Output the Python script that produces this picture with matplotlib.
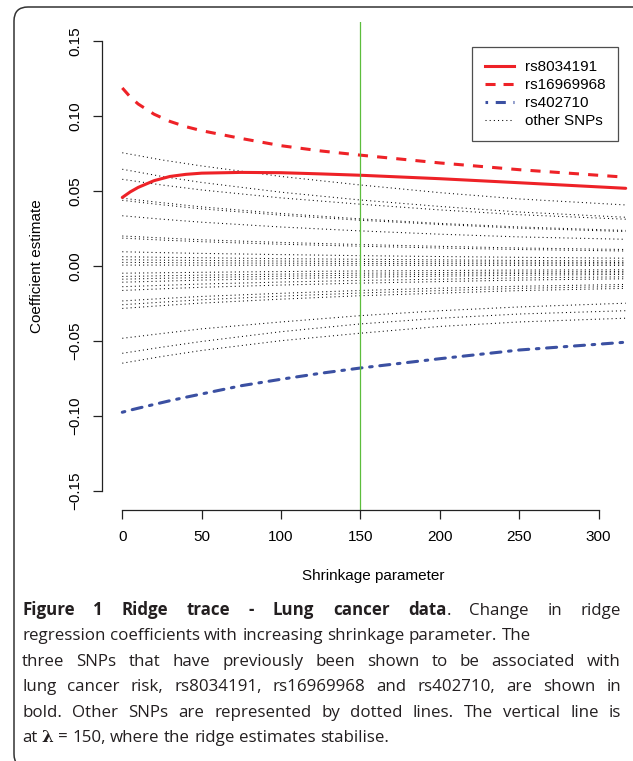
import matplotlib
matplotlib.use('Agg')
import matplotlib.pyplot as plt
from matplotlib.patches import FancyBboxPatch
from matplotlib.lines import Line2D
from matplotlib.transforms import IdentityTransform

plt.rcParams['font.family'] = ['Liberation Sans', 'DejaVu Sans']

W, H, DPI = 633, 761, 100

# ---------------- data ----------------
lam_key = [0, 5, 10, 20, 30, 40, 50, 75, 100, 125, 150, 200, 250, 317]
rs8034191 = [0.0455, 0.0492, 0.0522, 0.0567, 0.0595, 0.0609, 0.0617, 0.0622, 0.0620, 0.0612, 0.0603, 0.0580, 0.0553, 0.0516]
rs16969968 = [0.1185, 0.1125, 0.1078, 0.1010, 0.0962, 0.0927, 0.0900, 0.0848, 0.0800, 0.0765, 0.0737, 0.0685, 0.0640, 0.0590]
rs402710 = [-0.0977, -0.0963, -0.0950, -0.0925, -0.0900, -0.0877, -0.0855, -0.0800, -0.0757, -0.0717, -0.0682, -0.0620, -0.0562, -0.0510]

lam_snp = [0, 25, 50, 100, 150, 200, 250, 317]
other_snps = [
    [0.0753, 0.0705, 0.0665, 0.0595, 0.0538, 0.0487, 0.0445, 0.0405],
    [0.0643, 0.0595, 0.0555, 0.0490, 0.0438, 0.0395, 0.0358, 0.0323],
    [0.0576, 0.0538, 0.0505, 0.0452, 0.0410, 0.0372, 0.0340, 0.0310],
    [0.0450, 0.0420, 0.0392, 0.0348, 0.0312, 0.0282, 0.0258, 0.0235],
    [0.0436, 0.0406, 0.0379, 0.0337, 0.0303, 0.0275, 0.0250, 0.0228],
    [0.0333, 0.0310, 0.0290, 0.0258, 0.0232, 0.0210, 0.0192, 0.0176],
    [0.0198, 0.0185, 0.0173, 0.0155, 0.0141, 0.0129, 0.0118, 0.0108],
    [0.0184, 0.0171, 0.0160, 0.0143, 0.0130, 0.0118, 0.0108, 0.0098],
    [0.0093, 0.0087, 0.0082, 0.0074, 0.0067, 0.0061, 0.0056, 0.0050],
    [0.0060, 0.0056, 0.0053, 0.0047, 0.0043, 0.0039, 0.0035, 0.0032],
    [0.0040, 0.0037, 0.0035, 0.0031, 0.0028, 0.0026, 0.0024, 0.0021],
    [0.0022, 0.0021, 0.0019, 0.0017, 0.0015, 0.0014, 0.0013, 0.0012],
    [0.0004, 0.0004, 0.0003, 0.0003, 0.0003, 0.0002, 0.0002, 0.0002],
    [-0.0050, -0.0047, -0.0044, -0.0039, -0.0035, -0.0032, -0.0029, -0.0027],
    [-0.0072, -0.0067, -0.0063, -0.0056, -0.0050, -0.0046, -0.0042, -0.0038],
    [-0.0090, -0.0084, -0.0079, -0.0070, -0.0063, -0.0058, -0.0052, -0.0048],
    [-0.0110, -0.0103, -0.0096, -0.0086, -0.0077, -0.0070, -0.0064, -0.0058],
    [-0.0140, -0.0131, -0.0122, -0.0109, -0.0098, -0.0090, -0.0081, -0.0074],
    [-0.0165, -0.0154, -0.0144, -0.0129, -0.0116, -0.0106, -0.0096, -0.0087],
    [-0.0235, -0.0219, -0.0205, -0.0184, -0.0165, -0.0150, -0.0137, -0.0125],
    [-0.0260, -0.0243, -0.0227, -0.0203, -0.0182, -0.0166, -0.0151, -0.0138],
    [-0.0285, -0.0266, -0.0249, -0.0223, -0.0200, -0.0183, -0.0166, -0.0151],
    [-0.0484, -0.0452, -0.0421, -0.0375, -0.0333, -0.0300, -0.0275, -0.0250],
    [-0.0584, -0.0543, -0.0505, -0.0440, -0.0388, -0.0350, -0.0322, -0.0300],
    [-0.0650, -0.0605, -0.0565, -0.0500, -0.0450, -0.0405, -0.0375, -0.0350],
]

lambda_stable = 150
x_ticks = [0, 50, 100, 150, 200, 250, 300]
y_ticks = [-0.15, -0.10, -0.05, 0.00, 0.05, 0.10, 0.15]
y_ticklabels = ['\u22120.15', '\u22120.10', '\u22120.05', '0.00', '0.05', '0.10', '0.15']
legend_labels = ['rs8034191', 'rs16969968', 'rs402710', 'other SNPs']

RED = '#ee2227'
BLUE = '#3b50a2'
GREEN = '#5cbd3c'

# ---------------- figure ----------------
fig = plt.figure(figsize=(W / DPI, H / DPI), dpi=DPI)

def fx(px):
    return px / W

def fy(py):
    return 1 - py / H

ax_left, ax_right, ax_top, ax_bottom = 101.7, 633.0, 22.0, 510.0
ax = fig.add_axes([fx(ax_left), fy(ax_bottom), fx(ax_right - ax_left), (ax_bottom - ax_top) / H])
ax.set_xlim(-12.97, 321.6)
ax.set_ylim(-0.16287, 0.16247)
ax.patch.set_alpha(0)

for vals in other_snps:
    ax.plot(lam_snp, vals, color='black', lw=0.75, linestyle=(0, (1, 3)), solid_capstyle='butt')

ax.plot(lam_key, rs8034191, color=RED, lw=2.2, solid_capstyle='round', solid_joinstyle='round')
ax.plot(lam_key, rs16969968, color=RED, lw=2.2, dashes=(3.3, 3.0))
ax.plot(lam_key, rs402710, color=BLUE, lw=2.2, dashes=(0.85, 2.5, 3.3, 2.5), dash_capstyle='round')
ax.axvline(lambda_stable, color=GREEN, lw=0.9)

for s in ['top', 'right']:
    ax.spines[s].set_visible(False)
ax.spines['left'].set_bounds(-0.15, 0.15)
ax.spines['bottom'].set_bounds(0, 300)
for s in ['left', 'bottom']:
    ax.spines[s].set_linewidth(0.9)
    ax.spines[s].set_color('#222222')

ax.set_xticks(x_ticks)
ax.set_xticklabels([str(v) for v in x_ticks])
ax.set_yticks(y_ticks)
ax.set_yticklabels(y_ticklabels, rotation=90, va='center')
ax.tick_params(axis='both', length=6.7, width=0.9, color='#222222', labelsize=11)
ax.tick_params(axis='y', pad=7)
ax.tick_params(axis='x', pad=8)

fig.text(fx(37), fy(266), 'Coefficient estimate', rotation=90, ha='center', va='center', fontsize=11)
fig.text(fx(373), fy(576), 'Shrinkage parameter', ha='center', va='center', fontsize=11)

handles = [
    Line2D([], [], color=RED, lw=2.2),
    Line2D([], [], color=RED, lw=2.2, dashes=(3.3, 2.6)),
    Line2D([], [], color=BLUE, lw=2.2, dashes=(0.85, 2.5, 3.3, 2.5)),
    Line2D([], [], color='black', lw=0.75, linestyle=(0, (1, 3))),
]
leg = ax.legend(handles, legend_labels, loc='upper left',
                bbox_to_anchor=(fx(472), fy(47)), bbox_transform=fig.transFigure,
                fontsize=11, frameon=True, fancybox=False, borderaxespad=0,
                handlelength=1.9, handletextpad=0.7, labelspacing=0.26, borderpad=0.85)
leg.get_frame().set_edgecolor('#222222')
leg.get_frame().set_linewidth(0.9)

# ---------------- rounded border ----------------
border = FancyBboxPatch((14, H - 768), 660, 761, boxstyle='round,pad=0,rounding_size=14',
                        transform=IdentityTransform(), fill=False, edgecolor='#333333', lw=1.1)
fig.add_artist(border)

# ---------------- caption ----------------
CAP = ['Open Sans', 'DejaVu Sans']
CAPSIZE = 12.2
CAPCOL = '#231f20'
renderer = fig.canvas.get_renderer()
ID = IdentityTransform()

def make(txt, bold=False, fam=None):
    return fig.text(0, 0, txt, transform=ID, fontsize=CAPSIZE, color=CAPCOL, family=fam or CAP,
                    fontweight='bold' if bold else 'normal', ha='left', va='baseline')

def width(t):
    return t.get_window_extent(renderer).width

sp_a = make('n n'); sp_b = make('nn')
SPACE = width(sp_a) - width(sp_b)
sp_a.remove(); sp_b.remove()

def draw_line(words, baseline, x0, x1=None):
    built = []
    total = 0
    for word in words:
        parts = []
        for piece in word:
            t = make(*piece) if isinstance(piece, tuple) else make(piece)
            parts.append((t, width(t)))
            total += parts[-1][1]
        built.append(parts)
    gap = SPACE if x1 is None else (x1 - x0 - total) / (len(built) - 1)
    x = x0
    for parts in built:
        for t, w in parts:
            t.set_position((x, H - baseline))
            x += w
        x += gap

X0, X1 = 22, 621
LH = 25.4
B0 = 615
line1 = [[('Figure', True)], [('1', True)], [('Ridge', True)], [('trace', True)], [('-', True)],
         [('Lung', True)], [('cancer', True)], [('data', True), ('.', False)],
         ['Change'], ['in'], ['ridge']]
draw_line(line1, B0, X0, X1)
draw_line([[w] for w in 'regression coefficients with increasing shrinkage parameter. The'.split()], B0 + LH, X0)
draw_line([[w] for w in 'three SNPs that have previously been shown to be associated with'.split()], B0 + 2 * LH, X0, X1)
draw_line([[w] for w in 'lung cancer risk, rs8034191, rs16969968 and rs402710, are shown in'.split()], B0 + 3 * LH, X0, X1)
draw_line([[w] for w in 'bold. Other SNPs are represented by dotted lines. The vertical line is'.split()], B0 + 4 * LH, X0, X1)
draw_line([['at'], [('\u03bb', True, ['DejaVu Serif'])], ['='], ['150,']] +
          [[w] for w in 'where the ridge estimates stabilise.'.split()], B0 + 5 * LH, X0)

fig.savefig('out.png', dpi=DPI)
